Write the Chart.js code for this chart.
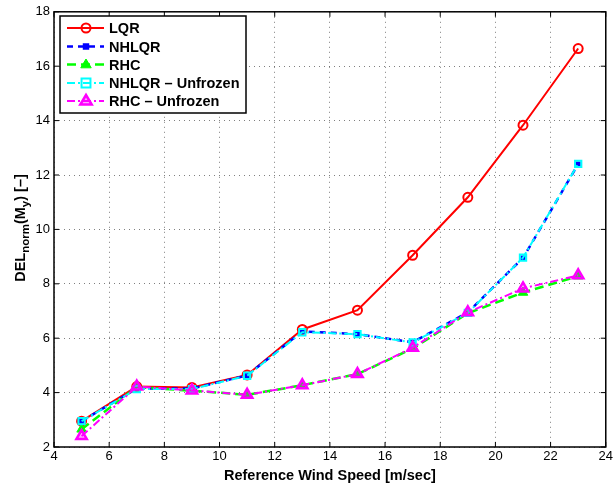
<!DOCTYPE html>
<html>
<head>
<meta charset="utf-8">
<script src="https://cdn.jsdelivr.net/npm/chart.js@4"></script>
<style>
  html, body { margin: 0; padding: 0; background: #fff; }
  #wrap { width: 615px; height: 485px; }
</style>
</head>
<body>
<div id="wrap"><canvas id="delChart" width="615" height="485"></canvas></div>
<script>
// Data
const windSpeed = [5, 7, 9, 11, 13, 15, 17, 19, 21, 23];
const lqr = [2.95, 4.22, 4.19, 4.65, 6.32, 7.03, 9.05, 11.18, 13.83, 16.65];
const nhlqr = [2.95, 4.15, 4.15, 4.63, 6.25, 6.15, 5.85, 6.95, 8.95, 12.4];
const rhc = [2.65, 4.2, 4.07, 3.92, 4.27, 4.68, 5.62, 6.92, 7.68, 8.28];
const nhlqrUnfrozen = [2.95, 4.13, 4.13, 4.62, 6.22, 6.15, 5.84, 6.93, 8.96, 12.41];
const rhcUnfrozen = [2.4, 4.22, 4.08, 3.92, 4.27, 4.68, 5.65, 6.95, 7.83, 8.31];
const seriesNames = ['LQR', 'NHLQR', 'RHC', 'NHLQR \u2013 Unfrozen', 'RHC \u2013 Unfrozen'];

const FONT = '"Liberation Sans", Arial, Helvetica, sans-serif';

function toPoints(values) {
    return windSpeed.map((x, i) => ({ x: x, y: values[i] }));
}

// Style of each series (line + marker), also used by the legend
const styles = [
    { color: '#ff0000', dash: [], width: 2, marker: 'circle', size: 4.5, fill: 'rgba(0,0,0,0)', mWidth: 2 },
    { color: '#0000ff', dash: [6, 5], width: 2.5, marker: 'rect', size: 2.5, fill: '#0000ff', mWidth: 1.5 },
    { color: '#00ff00', dash: [9, 5], width: 2.5, marker: 'triangle', size: 5.5, fill: '#00ff00', mWidth: 1 },
    { color: '#00ffff', dash: [8, 3, 2, 3], width: 2, marker: 'rect', size: 4.5, fill: 'rgba(0,0,0,0)', mWidth: 2 },
    { color: '#ff00ff', dash: [8, 3, 2, 3], width: 2, marker: 'triangle', size: 6, fill: 'rgba(255,0,255,0.35)', mWidth: 2.5 }
];
const seriesValues = [lqr, nhlqr, rhc, nhlqrUnfrozen, rhcUnfrozen];

const datasets = seriesValues.map((vals, i) => {
    const s = styles[i];
    return {
        label: seriesNames[i],
        data: toPoints(vals),
        borderColor: s.color,
        borderWidth: s.width,
        borderDash: s.dash,
        pointStyle: s.marker,
        pointRadius: s.size,
        pointBorderColor: s.color,
        pointBackgroundColor: s.fill,
        pointBorderWidth: s.mWidth,
        tension: 0,
        fill: false,
        order: 5 - i
    };
});

function drawMarker(ctx, s, x, y) {
    ctx.save();
    ctx.setLineDash([]);
    ctx.strokeStyle = s.color;
    ctx.fillStyle = s.fill;
    ctx.lineWidth = s.mWidth;
    const r = s.size;
    ctx.beginPath();
    if (s.marker === 'circle') {
        ctx.arc(x, y, r, 0, Math.PI * 2);
    } else if (s.marker === 'rect') {
        const h = r / Math.SQRT2 * 1.4;
        ctx.rect(x - h, y - h, h * 2, h * 2);
    } else {
        ctx.moveTo(x, y - r);
        ctx.lineTo(x + r * 0.95, y + r * 0.6);
        ctx.lineTo(x - r * 0.95, y + r * 0.6);
        ctx.closePath();
    }
    ctx.fill();
    ctx.stroke();
    ctx.restore();
}

// Black box round the plot with inward ticks on every side
const framePlugin = {
    id: 'frame',
    afterDatasetsDraw(chart) {
        const ctx = chart.ctx;
        const a = chart.chartArea;
        const xs = chart.scales.x, ys = chart.scales.y;
        ctx.save();
        ctx.strokeStyle = '#000';
        ctx.lineWidth = 1.5;
        ctx.setLineDash([]);
        ctx.strokeRect(a.left, a.top, a.right - a.left, a.bottom - a.top);
        ctx.lineWidth = 1;
        const len = 5;
        xs.ticks.forEach(t => {
            const px = xs.getPixelForValue(t.value);
            ctx.beginPath();
            ctx.moveTo(px, a.bottom); ctx.lineTo(px, a.bottom - len);
            ctx.moveTo(px, a.top); ctx.lineTo(px, a.top + len);
            ctx.stroke();
        });
        ys.ticks.forEach(t => {
            const py = ys.getPixelForValue(t.value);
            ctx.beginPath();
            ctx.moveTo(a.left, py); ctx.lineTo(a.left + len, py);
            ctx.moveTo(a.right, py); ctx.lineTo(a.right - len, py);
            ctx.stroke();
        });
        ctx.restore();
    }
};

// Legend inside the plot, top left
const legendPlugin = {
    id: 'boxLegend',
    afterDraw(chart) {
        const ctx = chart.ctx;
        const left = 60, top = 16, w = 186, h = 97;
        ctx.save();
        ctx.fillStyle = '#fff';
        ctx.fillRect(left, top, w, h);
        ctx.strokeStyle = '#000';
        ctx.lineWidth = 1.5;
        ctx.setLineDash([]);
        ctx.strokeRect(left, top, w, h);
        ctx.font = 'bold 14.5px ' + FONT;
        ctx.textBaseline = 'middle';
        const rowY = [28, 46.5, 64.5, 83, 101];
        seriesNames.forEach((name, i) => {
            const s = styles[i];
            const y = rowY[i];
            ctx.strokeStyle = s.color;
            ctx.lineWidth = s.width;
            ctx.setLineDash(s.dash);
            ctx.beginPath();
            ctx.moveTo(67, y);
            ctx.lineTo(104, y);
            ctx.stroke();
            drawMarker(ctx, s, 86, y);
            ctx.fillStyle = '#000';
            ctx.fillText(name, 109, y + 1);
        });
        ctx.restore();
    }
};

// Y axis title with subscripts
const yTitlePlugin = {
    id: 'yTitle',
    afterDraw(chart) {
        const ctx = chart.ctx;
        const parts = [
            { t: 'DEL', size: 14.5, dy: 0 },
            { t: 'norm', size: 11.5, dy: 5 },
            { t: '(M', size: 14.5, dy: 0 },
            { t: 'y', size: 11.5, dy: 5 },
            { t: ') [\u2013]', size: 14.5, dy: 0 }
        ];
        ctx.save();
        ctx.translate(21, 228);
        ctx.rotate(-Math.PI / 2);
        ctx.fillStyle = '#000';
        ctx.textBaseline = 'middle';
        let total = 0;
        parts.forEach(p => {
            ctx.font = 'bold ' + p.size + 'px ' + FONT;
            p.w = ctx.measureText(p.t).width;
            total += p.w;
        });
        let x = -total / 2;
        parts.forEach(p => {
            ctx.font = 'bold ' + p.size + 'px ' + FONT;
            ctx.fillText(p.t, x, p.dy);
            x += p.w;
        });
        ctx.restore();
    }
};

const gridStyle = {
    color: 'rgba(0,0,0,0.5)',
    lineWidth: 1,
    drawTicks: false
};

new Chart(document.getElementById('delChart').getContext('2d'), {
    type: 'line',
    data: { datasets: datasets },
    options: {
        responsive: false,
        animation: false,
        layout: { padding: { left: 30, right: 7, top: 11, bottom: 0 } },
        plugins: {
            legend: { display: false },
            tooltip: { enabled: false }
        },
        scales: {
            x: {
                type: 'linear',
                min: 4,
                max: 24,
                ticks: { stepSize: 2, color: '#000', font: { family: FONT, size: 13 }, padding: 2, maxRotation: 0 },
                grid: gridStyle,
                border: { display: false, dash: [1, 4] },
                title: {
                    display: true,
                    text: 'Reference Wind Speed [m/sec]',
                    color: '#000',
                    font: { family: FONT, size: 14.5, weight: 'bold' },
                    padding: { top: 0, bottom: 0 }
                },
                afterFit(scale) { scale.height = 38; }
            },
            y: {
                min: 2,
                max: 18,
                ticks: { stepSize: 2, color: '#000', font: { family: FONT, size: 13 }, padding: 4 },
                grid: gridStyle,
                border: { display: false, dash: [1, 4] },
                afterFit(scale) { scale.width = 24; }
            }
        }
    },
    plugins: [framePlugin, legendPlugin, yTitlePlugin]
});
</script>
</body>
</html>
